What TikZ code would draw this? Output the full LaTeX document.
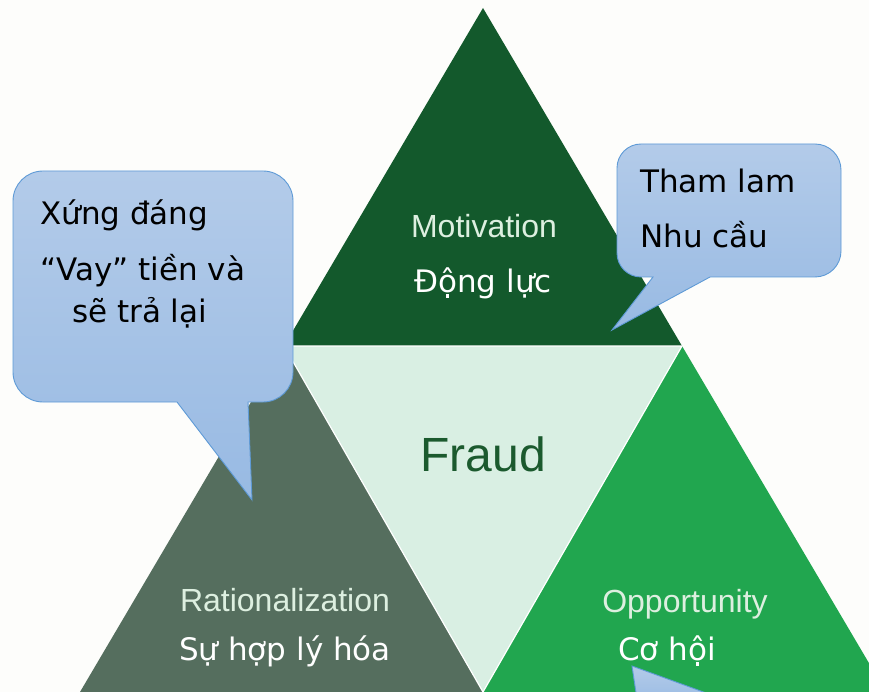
\documentclass[tikz,border=0pt]{standalone}
\usepackage{fontspec}
\setmainfont{DejaVu Sans}
\newfontfamily\arialf{Liberation Sans}
\definecolor{bgc}{HTML}{FDFDFB}
\definecolor{topg}{HTML}{13592C}
\definecolor{leftg}{HTML}{556E5E}
\definecolor{rightg}{HTML}{21A64F}
\definecolor{mint}{HTML}{D9EFE3}
\definecolor{labc}{HTML}{DDEFE0}
\definecolor{fraudc}{HTML}{1B5A2E}
\definecolor{cotop}{HTML}{B3CBE9}
\definecolor{cobot}{HTML}{98BAE3}
\definecolor{coline}{HTML}{5E9AD6}
\tikzset{
  tri/.style={draw=white, line width=1.2pt, line join=miter},
  callout/.style={top color=cotop, bottom color=cobot, draw=coline, line width=0.9pt},
  enlab/.style={font=\arialf\fontsize{32}{36}\selectfont, text=labc, anchor=base, inner sep=0pt},
  vnlab/.style={font=\fontsize{31}{36}\selectfont, text=white, anchor=base, inner sep=0pt},
  cotext/.style={font=\fontsize{31}{36}\selectfont, text=black, anchor=base west, inner sep=0pt}
}
\begin{document}
\begin{tikzpicture}[x=1pt,y=-1pt]
\useasboundingbox (0,0) rectangle (869,692);
\clip (0,0) rectangle (869,692);
\fill[bgc] (0,0) rectangle (869,692);
% vertices
\coordinate (A) at (483,8);
\coordinate (L1) at (284,346);
\coordinate (R1) at (682,346);
\coordinate (BL) at (80,692);
\coordinate (M) at (483,692);
\coordinate (BR) at (886,692);
% triangles
\fill[topg] (A) -- (L1) -- (R1) -- cycle;
\fill[leftg] (L1) -- (BL) -- (M) -- cycle;
\fill[rightg] (R1) -- (M) -- (BR) -- cycle;
\fill[mint] (L1) -- (R1) -- (M) -- cycle;
\draw[tri] (L1) -- (R1) -- (M) -- cycle;
% labels
\node[enlab] (mot) at (484,238) {Motivation};
\node[vnlab] (motv) at (483,293) {Động lực};
\node[font=\arialf\fontsize{48}{52}\selectfont, text=fraudc, anchor=base, inner sep=0pt] (fraud) at (483,471) {Fraud};
\node[enlab] (rat) at (285,611) {Rationalization};
\node[vnlab] (ratv) at (285,660) {Sự hợp lý hóa};
\node[enlab] (opp) at (685,612) {Opportunity};
\node[vnlab] (oppv) at (667,660) {Cơ hội};
% left callout
\path[callout] (150,171) [rounded corners=30] -- (293,171) -- (293,402) [sharp corners] -- (248,402) -- (252,500) -- (177,402) [rounded corners=30] -- (13,402) -- (13,171) -- cycle;
\node[cotext] (x1) at (40,225) {Xứng đáng};
\node[cotext] (x2) at (40,280) {“Vay” tiền và};
\node[cotext] (x3) at (72,323) {sẽ trả lại};
% right callout
\path[callout] (720,144) [rounded corners=26] -- (841,144) -- (841,277) [sharp corners] -- (710,277) -- (612,330) -- (653,277) [rounded corners=24] -- (617,277) -- (617,144) -- cycle;
\node[cotext] (t1) at (640,193) {Tham lam};
\node[cotext] (t2) at (640,248) {Nhu cầu};
% bottom callout (pointer only visible)
\path[callout] (632,666) -- (742,706) -- (638,706) -- cycle;
\end{tikzpicture}
\end{document}
